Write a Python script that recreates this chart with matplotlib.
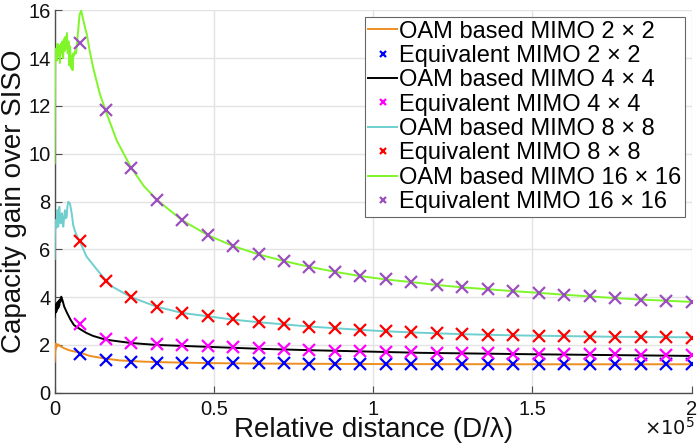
import numpy as np
import matplotlib
matplotlib.use("Agg")
import matplotlib.pyplot as plt
from matplotlib.ticker import FuncFormatter

plt.rcParams['font.family'] = ['Liberation Sans', 'DejaVu Sans']

# ---------------- data ----------------
eq_x = np.arange(8000, 200001, 8000)

eq2 = [1.60, 1.37, 1.30, 1.26, 1.24, 1.23, 1.23, 1.23, 1.23, 1.22, 1.22, 1.22, 1.22,
       1.21, 1.21, 1.21, 1.21, 1.20, 1.20, 1.20, 1.20, 1.20, 1.19, 1.19, 1.19]
eq4 = [2.86, 2.26, 2.10, 2.05, 2.01, 1.97, 1.91, 1.86, 1.81, 1.78, 1.75, 1.73, 1.72,
       1.70, 1.68, 1.67, 1.65, 1.64, 1.63, 1.62, 1.61, 1.60, 1.59, 1.57, 1.56]
eq8 = [6.36, 4.69, 4.02, 3.60, 3.32, 3.19, 3.07, 2.95, 2.86, 2.77, 2.69, 2.62, 2.57,
       2.53, 2.49, 2.45, 2.42, 2.40, 2.38, 2.36, 2.35, 2.34, 2.33, 2.32, 2.31]
eq16 = [14.65, 11.85, 9.42, 8.08, 7.22, 6.60, 6.14, 5.79, 5.51, 5.27, 5.06, 4.88, 4.74,
        4.64, 4.51, 4.41, 4.33, 4.25, 4.18, 4.10, 4.03, 3.96, 3.90, 3.85, 3.80]

oam2_x = [0, 150, 300, 450, 600, 800, 1100, 1500, 2000, 3000, 4500, 6000, 8000,
          11000, 16300, 20500, 28000, 36000, 48000, 64000, 100000, 150000, 200000]
oam2_y = [1.30, 1.70, 2.05, 1.85, 2.04, 1.95, 2.02, 1.97, 1.93, 1.86, 1.78, 1.73, 1.68,
          1.54, 1.42, 1.35, 1.30, 1.27, 1.24, 1.22, 1.20, 1.19, 1.19]

oam4_x = [0, 100, 250, 400, 550, 700, 850, 1000, 1150, 1300, 1450, 1600, 1800, 2070,
          2500, 3000, 3960, 5000, 6060, 8000, 10000, 12000, 16000, 24000, 32000, 40000,
          48000, 56000, 64000, 80000, 96000, 114700, 150000, 200000]
oam4_y = [3.18, 3.50, 3.35, 3.70, 3.40, 3.75, 3.50, 3.80, 3.55, 3.85, 3.65, 3.90, 3.80, 4.02,
          3.85, 3.60, 3.32, 3.05, 2.83, 2.66, 2.50, 2.38, 2.22, 2.08, 2.00, 1.96,
          1.92, 1.88, 1.84, 1.78, 1.73, 1.67, 1.61, 1.54]

oam8_x = [0, 100, 310, 550, 830, 1000, 1150, 1460, 1700, 1880, 2100, 2290, 2500, 2710,
          3000, 3230, 3500, 3770, 4000, 4270, 4800, 5340, 5840, 6400, 7000, 8000, 10000,
          13400, 16000, 18100, 24000, 32000, 40000, 48000, 56000, 64000, 72000, 80000,
          88000, 96000, 104000, 114700, 128000, 144000, 160000, 176000, 200000]
oam8_y = [5.60, 6.80, 7.22, 6.90, 7.64, 7.00, 6.95, 7.78, 7.20, 7.09, 7.50, 7.51, 7.10, 6.95,
          7.40, 7.64, 7.30, 7.36, 7.80, 7.99, 7.92, 7.51, 7.00, 6.75, 6.55, 6.30, 5.70,
          5.13, 4.72, 4.44, 4.00, 3.60, 3.34, 3.20, 3.06, 2.95, 2.86, 2.77,
          2.70, 2.63, 2.57, 2.51, 2.45, 2.40, 2.37, 2.34, 2.32]

oam16_x = [0, 150, 400, 650, 900, 1150, 1400, 1650, 1900, 2150, 2400, 2650, 2900, 3150,
           3400, 3650, 3850, 4100, 4350, 4600, 4850, 5100, 5350, 5600, 5850, 6100, 6400,
           6700, 7000, 7400, 7800, 8300, 8800, 9500, 10100, 11000, 12100, 14200, 16000,
           19500, 24000, 28000, 32000, 40000, 48000, 56000, 64000, 72000, 80000, 88000,
           96000, 104000, 112000, 120000, 128000, 136000, 144000, 152000, 160000, 168000,
           176000, 184000, 192000, 200000]
oam16_y = [9.60, 14.10, 14.40, 13.90, 14.60, 14.10, 14.50, 13.80, 14.60, 14.20, 14.70, 14.00,
           14.80, 14.30, 14.90, 14.40, 15.05, 14.20, 14.70, 13.70, 14.50, 13.60, 14.10, 13.50,
           14.20, 14.10, 14.30, 14.20, 14.60, 15.20, 15.80, 16.00, 15.70, 15.30, 15.00, 14.30,
           13.60, 12.50, 11.80, 10.55, 9.42, 8.65, 8.08, 7.22, 6.60, 6.14, 5.79, 5.51, 5.27,
           5.06, 4.88, 4.74, 4.63, 4.51, 4.41, 4.33, 4.25, 4.18, 4.10, 4.03, 3.96, 3.90,
           3.85, 3.80]

labels = ["OAM based MIMO 2 × 2", "Equivalent MIMO 2 × 2",
          "OAM based MIMO 4 × 4", "Equivalent MIMO 4 × 4",
          "OAM based MIMO 8 × 8", "Equivalent MIMO 8 × 8",
          "OAM based MIMO 16 × 16", "Equivalent MIMO 16 × 16"]

line_colors = ["#EE8E20", "#000000", "#6FCFCF", "#7FF52A"]
marker_colors = ["#0000FF", "#FF00FF", "#FF0000", "#9B4FBF"]

# ---------------- plot ----------------
fig = plt.figure(figsize=(7.0, 4.43), dpi=100)
ax = fig.add_axes([0.0781, 0.1135, 0.91, 0.863])

lines_x = [oam2_x, oam4_x, oam8_x, oam16_x]
lines_y = [oam2_y, oam4_y, oam8_y, oam16_y]
eqs = [eq2, eq4, eq8, eq16]

for i in range(4):
    ax.plot(lines_x[i], lines_y[i], color=line_colors[i], lw=1.4,
            label=labels[2 * i], zorder=3)
    ax.plot(eq_x, eqs[i], linestyle='none', marker='x', color=marker_colors[i],
            markersize=8, mew=1.6, label=labels[2 * i + 1], zorder=4)

ax.set_xlim(0, 200000)
ax.set_ylim(0, 16)
ax.set_xticks([0, 50000, 100000, 150000, 200000])
ax.set_yticks(range(0, 17, 2))
ax.xaxis.set_major_formatter(FuncFormatter(lambda v, p: f"{v / 1e5:g}"))

ax.grid(True, color="#E3E3E3", lw=1.0, zorder=0)
ax.set_axisbelow(True)
for s in ['top', 'right']:
    ax.spines[s].set_visible(False)
for s in ['left', 'bottom']:
    ax.spines[s].set_color("#4D4D4D")
    ax.spines[s].set_linewidth(1.0)
ax.tick_params(direction='in', length=5, width=0.8, color="#4D4D4D",
               labelsize=14.5, labelcolor="#111111")
ax.tick_params(axis='x', pad=5)
ax.tick_params(axis='y', pad=3)

ax.set_xlabel("Relative distance (D/λ)", fontsize=20, color="#111111")
ax.set_ylabel("Capacity gain over SISO", fontsize=20, color="#111111")
ax.xaxis.set_label_coords(0.5, -0.064)
ax.yaxis.set_label_coords(-0.044, 0.5)

fig.text(0.993, 1 - 428 / 443, r"$\times10^{5}$", ha='right', va='center',
         fontsize=14, color="#111111")

leg = ax.legend(loc='upper right', bbox_to_anchor=(0.9895, 0.9825), borderaxespad=0,
                fontsize=17, handlelength=1.2, handletextpad=0.1, labelspacing=0.1,
                borderpad=0.15, fancybox=False, framealpha=1, markerscale=0.6)
leg.get_frame().set_edgecolor("#666666")
leg.get_frame().set_linewidth(0.8)

fig.savefig("out.png", dpi=100)
